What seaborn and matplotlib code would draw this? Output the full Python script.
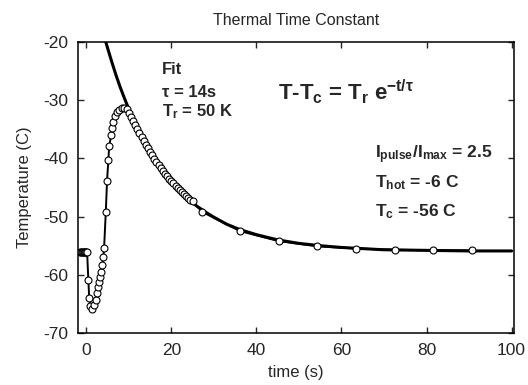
import matplotlib
matplotlib.use("Agg")
import matplotlib.pyplot as plt
import seaborn as sns

data_t = [-1.4, -1.2, -1.0, -0.8, -0.6, -0.4, -0.2, 0.0, 0.2,
          0.5, 0.7, 1.0, 1.4, 1.9, 2.4, 2.6, 2.8, 3.1, 3.3, 3.5, 3.8, 4.0, 4.2,
          4.6, 4.9, 5.2, 5.4, 5.9, 6.1, 6.4, 6.8, 7.3, 7.8, 8.5, 8.9,
          9.5, 10.0, 10.5, 11.0, 11.5, 12.0, 12.5, 13.0, 13.5, 14.0, 14.5, 15.0,
          15.5, 16.0, 16.5, 17.0, 17.5, 18.0, 18.5, 19.0, 19.5, 20.0, 20.5, 21.0,
          21.5, 22.0, 22.5, 23.0, 23.5, 24.0, 24.5, 25.0,
          27.3, 36.2, 45.2, 54.3, 63.5, 72.7, 81.6, 90.8]
data_T = [-56, -56, -56, -56, -56, -56, -56, -56, -56,
          -60.9, -64.0, -65.4, -65.8, -65.1, -64.4, -63.2, -62.1, -61.2, -60.4, -59.5, -58.3, -57.0, -55.4,
          -49.2, -43.8, -40.3, -37.8, -36.0, -34.7, -33.7, -32.8, -32.1, -31.7, -31.3, -31.3,
          -31.6, -32.2, -32.9, -33.6, -34.3, -35.0, -35.7, -36.4, -37.0, -37.7, -38.3, -38.9,
          -39.5, -40.1, -40.6, -41.1, -41.6, -42.1, -42.6, -43.0, -43.5, -43.9, -44.3, -44.7,
          -45.1, -45.5, -45.8, -46.2, -46.5, -46.8, -47.1, -47.4,
          -49.2, -52.5, -54.2, -55.1, -55.5, -55.7, -55.8, -55.8]

# fit curve
fit_t = [4.6, 5, 6, 7, 8, 9, 10, 11, 12, 13, 14, 15, 16, 18, 20, 22, 24, 26, 28, 30,
         33, 36, 40, 45, 50, 55, 60, 70, 80, 90, 100]
fit_T = [-20.0, -21.0, -23.4, -25.7, -27.8, -29.7, -31.5, -33.2, -34.8, -36.2, -37.6, -38.9,
         -40.1, -42.2, -44.0, -45.6, -47.0, -48.2, -49.2, -50.1, -51.3, -52.2, -53.1, -54.0,
         -54.6, -55.0, -55.3, -55.7, -55.8, -55.9, -55.9]

sns.set_style("ticks")
plt.rcParams['font.family'] = ['Liberation Sans', 'DejaVu Sans']
plt.rcParams['axes.unicode_minus'] = False
plt.rcParams['mathtext.fontset'] = 'custom'
plt.rcParams['mathtext.bf'] = 'Liberation Sans:bold'
plt.rcParams['mathtext.rm'] = 'Liberation Sans:bold'
plt.rcParams['mathtext.it'] = 'Liberation Sans:bold'
plt.rcParams['mathtext.default'] = 'bf'

fig = plt.figure(figsize=(5.28, 3.85), dpi=100)
ax = fig.add_axes([0.148, 0.135, 0.825, 0.756])

sns.lineplot(x=fit_t, y=fit_T, ax=ax, color='black', linewidth=2.2, sort=False, zorder=2)
sns.lineplot(x=data_t, y=data_T, ax=ax, color='black', linewidth=1.4, sort=False,
             marker='o', markersize=5, markerfacecolor='white', markeredgecolor='black',
             markeredgewidth=0.8, zorder=3)

ax.set_xlim(-1.9, 100.5)
ax.set_ylim(-70, -20)
ax.set_xticks([0, 20, 40, 60, 80, 100])
ax.set_yticks([-70, -60, -50, -40, -30, -20])
ax.tick_params(direction='in', length=4, width=1, top=True, right=True, labelsize=12.5, pad=7)
for s in ax.spines.values():
    s.set_linewidth(1.1)
    s.set_color('black')

ax.set_title('Thermal Time Constant', fontsize=11.5, pad=12)
ax.set_xlabel('time (s)', fontsize=12, labelpad=5)
ax.set_ylabel('Temperature (C)', fontsize=12, labelpad=8)

kw = dict(transform=ax.transAxes, fontsize=12, fontweight='bold', va='center', ha='left')
ax.text(0.193, 0.904, 'Fit', **kw)
ax.text(0.193, 0.828, 'τ = 14s', **kw)
ax.text(0.193, 0.759, r'T$_r$ = 50 K', **kw)
ax.text(0.459, 0.830, r'T-T$_c$ = T$_r$ e$^{-t/τ}$', transform=ax.transAxes,
        fontsize=16, fontweight='bold', va='center', ha='left')
kw['fontsize'] = 12.5
ax.text(0.681, 0.612, r'I$_{pulse}$/I$_{max}$ = 2.5', **kw)
ax.text(0.681, 0.515, r'T$_{hot}$ = -6 C', **kw)
ax.text(0.681, 0.416, r'T$_c$ = -56 C', **kw)

fig.savefig('out.png', dpi=100)
